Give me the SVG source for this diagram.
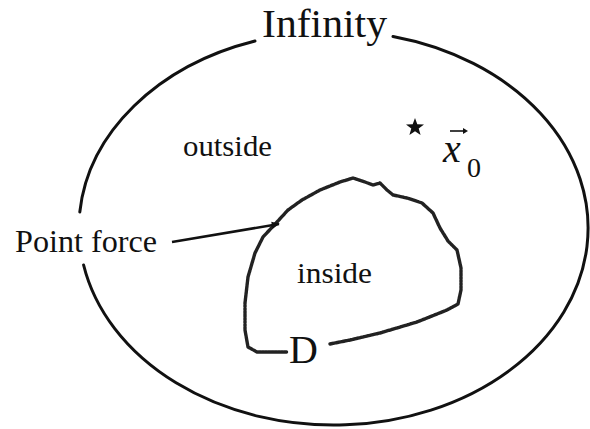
<svg xmlns="http://www.w3.org/2000/svg" width="590" height="429" viewBox="0 0 590 429">
<style>
text{font-family:"Liberation Serif","Times New Roman","DejaVu Serif","Noto Serif",serif;fill:#111}
.edge{fill:none;stroke:#111;stroke-width:3;stroke-linecap:round}
.blob{fill:none;stroke:#222;stroke-width:3.4;stroke-linejoin:round;stroke-linecap:round;stroke-dasharray:2.4 0.8}
</style>
<defs>
<marker id="ah" viewBox="0 0 10 10" refX="9" refY="5" markerWidth="9" markerHeight="8" orient="auto" markerUnits="userSpaceOnUse">
<path d="M0,0.5 L10,5 L0,9.5 Z" fill="#111"/>
</marker>
</defs>
<rect width="590" height="429" fill="#fff"/>
<g id="infinity">
<path class="edge" d="M393,36.5 A254.5,197 0 1 1 83.6,265"/>
<path class="edge" d="M79.8,212 A254.5,197 0 0 1 255,41"/>
<text x="262" y="37" font-size="40" textLength="125" lengthAdjust="spacingAndGlyphs">Infinity</text>
</g>
<g id="outside"><text x="183" y="156" font-size="30" textLength="89" lengthAdjust="spacingAndGlyphs">outside</text></g>
<g id="x0">
<path d="M415,118 L417.3,124.3 L424,124.5 L418.7,128.6 L420.6,135 L415,131.2 L409.4,135 L411.3,128.6 L406,124.5 L412.7,124.3 Z" fill="#111"/>
<text x="443" y="162" font-size="40" font-style="italic">x</text>
<path d="M450,131 L466,131" stroke="#111" stroke-width="1.6" fill="none"/>
<path d="M463,128 L468,131 L463,134 Z" fill="#111"/>
<text x="467" y="177" font-size="28">0</text>
</g>
<g id="D">
<path class="blob" d="M330,344 L350,340 L380,333 L417,322 L447,310 L458,304 L461,290 L461,268 L457,250 L448,241 L440,228 L433,213 L422,203 L407,198 L393,195 L387,190 L380,183 L373,185 L365,182 L353,178 L340,182 L320,190 L302,200 L288,210 L277,222 L263,237 L255,253 L248,277 L245,303 L245,330 L248,347 L257,352 L287,352"/>
<text x="289" y="363" font-size="40">D</text>
<text x="297" y="283" font-size="30" textLength="75" lengthAdjust="spacingAndGlyphs">inside</text>
</g>
<g id="pointforce"><text x="15" y="252" font-size="32" textLength="142" lengthAdjust="spacingAndGlyphs">Point force</text></g>
<g id="connectors">
<line x1="172" y1="242" x2="279" y2="224" stroke="#111" stroke-width="2.5" marker-end="url(#ah)"/>
</g>
</svg>
